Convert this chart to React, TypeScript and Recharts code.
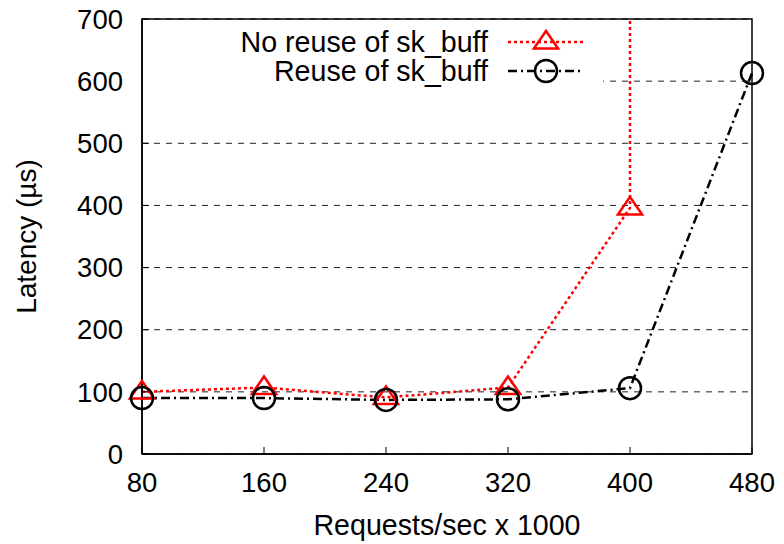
import { LineChart, Line, XAxis, YAxis, CartesianGrid, ReferenceArea } from 'recharts';

// request rate (x 1000 req/s)
const requestRates = [80, 160, 240, 320, 400, 480];
// latency in microseconds
const noReuseLatency = [100, 107, 91, 107, 396];
const reuseLatency = [90, 90, 87, 88, 106, 613];
// the no-reuse run blows up at 400k req/s, far above the plotted range
const noReuseOffScale = { x: 400, y: 2000 };
const yTicks = [0, 100, 200, 300, 400, 500, 600, 700];

const FONT = '"Liberation Sans", Arial, Helvetica, sans-serif';

const noReuseData = [
  ...noReuseLatency.map((v, i) => ({ x: requestRates[i], y: v })),
  noReuseOffScale,
];
const reuseData = reuseLatency.map((v, i) => ({ x: requestRates[i], y: v }));

const Triangle = ({ cx, cy, r = 11 }: { cx: number; cy: number; r?: number }) => (
  <polygon
    points={`${cx},${cy - r} ${cx - r * 1.1},${cy + r * 0.6} ${cx + r * 1.1},${cy + r * 0.6}`}
    fill="none"
    stroke="#ff0000"
    strokeWidth={2.5}
  />
);

const triangleDot = (props: any) => {
  const { cx, cy, payload, index } = props;
  if (payload.y > 700) return <g key={index} />;
  return <Triangle key={index} cx={cx} cy={cy} />;
};

const circleDot = (props: any) => {
  const { cx, cy, index } = props;
  return <circle key={index} cx={cx} cy={cy} r={11} fill="none" stroke="#000" strokeWidth={2.5} />;
};

function LegendBox() {
  const rows = [
    { label: 'No reuse of sk_buff', cy: 22, color: '#ff0000', dash: '3 3', width: 2.5, marker: 'tri' },
    { label: 'Reuse of sk_buff', cy: 51, color: '#000', dash: '9 4 2 4', width: 2.5, marker: 'circ' },
  ];
  return (
    <div
      style={{
        position: 'absolute',
        left: 143,
        top: 20,
        width: 460,
        height: 72,
        background: '#fff',
        fontFamily: FONT,
        fontSize: 28.6,
        color: '#000',
      }}
    >
      {rows.map((r) => (
        <div key={r.label}>
          <div
            style={{
              position: 'absolute',
              left: 0,
              width: 345,
              top: r.cy - 16,
              lineHeight: '32px',
              textAlign: 'right',
              whiteSpace: 'nowrap',
            }}
          >
            {r.label}
          </div>
          <svg style={{ position: 'absolute', left: 363, top: r.cy - 15 }} width={80} height={30}>
            <line x1={2} y1={15} x2={77} y2={15} stroke={r.color} strokeWidth={r.width} strokeDasharray={r.dash} />
            {r.marker === 'tri' ? (
              <Triangle cx={40} cy={15} />
            ) : (
              <circle cx={40} cy={15} r={11} fill="none" stroke="#000" strokeWidth={2.5} />
            )}
          </svg>
        </div>
      ))}
    </div>
  );
}

export default function App() {
  return (
    <div style={{ position: 'absolute', left: 0, top: 0, width: 784, height: 544, background: '#fff' }}>
      <LineChart width={784} height={544} margin={{ top: 19, right: 32, left: 0, bottom: 0 }}>
        <CartesianGrid vertical={false} stroke="#222" strokeWidth={1} strokeDasharray="6 6" />
        <XAxis
          dataKey="x"
          type="number"
          domain={[80, 480]}
          ticks={requestRates}
          height={90}
          axisLine={{ stroke: '#000', strokeWidth: 1.5 }}
          tickLine={{ stroke: '#000' }}
          tickSize={-7}
          tickMargin={25}
          tick={{ fill: '#000', fontSize: 27.5, fontFamily: FONT }}
          label={{ value: 'Requests/sec x 1000', position: 'center', dy: 26, fill: '#000', fontSize: 28.6, fontFamily: FONT }}
        />
        <YAxis
          dataKey="y"
          type="number"
          domain={[0, 700]}
          ticks={yTicks}
          allowDataOverflow
          width={142}
          axisLine={{ stroke: '#000', strokeWidth: 1.5 }}
          tickLine={{ stroke: '#000' }}
          tickSize={-7}
          tickMargin={26}
          tick={{ fill: '#000', fontSize: 27.5, fontFamily: FONT }}
          label={{ value: 'Latency (µs)', angle: -90, position: 'center', dx: -45, fill: '#000', fontSize: 28, fontFamily: FONT }}
        />
        <ReferenceArea x1={80} x2={480} y1={0} y2={700} fill="none" stroke="#000" strokeWidth={1.5} ifOverflow="visible" />
        <Line
          data={noReuseData}
          dataKey="y"
          type="linear"
          stroke="#ff0000"
          strokeWidth={2.5}
          strokeDasharray="3 3"
          dot={triangleDot}
          isAnimationActive={false}
        />
        <Line
          data={reuseData}
          dataKey="y"
          type="linear"
          stroke="#000"
          strokeWidth={2.5}
          strokeDasharray="9 4 2 4"
          dot={circleDot}
          isAnimationActive={false}
        />
      </LineChart>
      <LegendBox />
    </div>
  );
}
